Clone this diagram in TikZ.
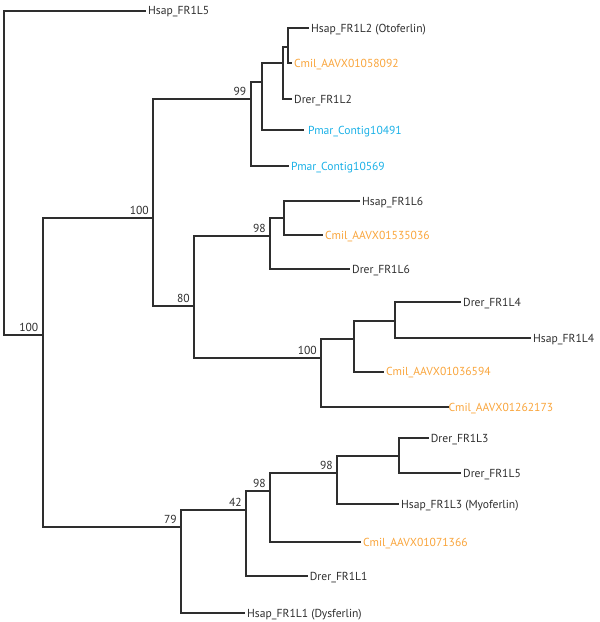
\documentclass[tikz,border=0pt]{standalone}
\usepackage{fontspec}
\setmainfont{PT Sans}
\definecolor{txt}{HTML}{2E2E2E}
\definecolor{orng}{HTML}{F9A53C}
\definecolor{blu}{HTML}{1BB1E7}
\tikzset{
  br/.style={draw=txt, line width=2pt, line cap=rect},
  leaf/.style={anchor=west, inner xsep=3pt, inner ysep=0pt, text height=8pt, text depth=0pt, text=txt, font=\fontsize{11.6}{13}\selectfont},
  cmilleaf/.style={leaf, text=orng},
  pmarleaf/.style={leaf, text=blu},
  bsval/.style={anchor=base east, inner sep=0pt, xshift=-4pt, yshift=3.5pt, text=txt, font=\fontsize{11.6}{13}\selectfont}
}
\begin{document}
\begin{tikzpicture}[x=1pt,y=-1pt]
\useasboundingbox (0,0) rectangle (600,622);
% internal nodes
\coordinate (r) at (4.3,10.5);
\coordinate (n1) at (42.5,335);
\coordinate (n2) at (153,218);
\coordinate (n3) at (250.5,99.3);
\coordinate (n4) at (262,81.7);
\coordinate (n5) at (283,63.3);
\coordinate (n6) at (288,46.7);
\coordinate (n7) at (194,306);
\coordinate (n8) at (270,236);
\coordinate (n9) at (284,218);
\coordinate (n10) at (321,358.3);
\coordinate (n11) at (354,339);
\coordinate (n12) at (395,320.7);
\coordinate (n13) at (181,526.7);
\coordinate (n14) at (246,510);
\coordinate (n15) at (270,491);
\coordinate (n16) at (337,473.3);
\coordinate (n17) at (399.3,456);
% leaves
\node[leaf] (l1) at (145,10.5) {Hsap\_FR1L5};
\node[leaf] (l2) at (308,28.3) {Hsap\_FR1L2 (Otoferlin)};
\node[cmilleaf] (l3) at (291,63.3) {Cmil\_AAVX01058092};
\node[leaf] (l4) at (291,99.3) {Drer\_FR1L2};
\node[pmarleaf, inner xsep=5pt] (l5) at (303,130) {Pmar\_Contig10491};
\node[pmarleaf] (l6) at (288,166) {Pmar\_Contig10569};
\node[leaf] (l7) at (359,201) {Hsap\_FR1L6};
\node[cmilleaf] (l8) at (322,235) {Cmil\_AAVX01535036};
\node[leaf] (l9) at (349,269) {Drer\_FR1L6};
\node[leaf] (l10) at (460,302) {Drer\_FR1L4};
\node[leaf] (l11) at (530,338.3) {Hsap\_FR1L4};
\node[cmilleaf] (l12) at (383,371.7) {Cmil\_AAVX01036594};
\node[cmilleaf, inner xsep=0.5pt] (l13) at (448,407) {Cmil\_AAVX01262173};
\node[leaf] (l14) at (427.7,438.3) {Drer\_FR1L3};
\node[leaf] (l15) at (460,473.3) {Drer\_FR1L5};
\node[leaf] (l16) at (398,504) {Hsap\_FR1L3 (Myoferlin)};
\node[cmilleaf] (l17) at (360,542) {Cmil\_AAVX01071366};
\node[leaf] (l18) at (306.7,576) {Drer\_FR1L1};
\node[leaf] (l19) at (244,613.3) {Hsap\_FR1L1 (Dysferlin)};
% branches
\draw[br] (r) |- (l1.west);
\draw[br] (r) |- (n1);
\draw[br] (n1) |- (n2);
\draw[br] (n1) |- (n13);
\draw[br] (n2) |- (n3);
\draw[br] (n2) |- (n7);
\draw[br] (n3) |- (n4);
\draw[br] (n3) |- (l6.west);
\draw[br] (n4) |- (n5);
\draw[br] (n4) |- (l5.west);
\draw[br] (n5) |- (n6);
\draw[br] (n5) |- (l4.west);
\draw[br] (n6) |- (l2.west);
\draw[br] (n6) |- (l3.west);
\draw[br] (n7) |- (n8);
\draw[br] (n7) |- (n10);
\draw[br] (n8) |- (n9);
\draw[br] (n8) |- (l9.west);
\draw[br] (n9) |- (l7.west);
\draw[br] (n9) |- (l8.west);
\draw[br] (n10) |- (n11);
\draw[br] (n10) |- (l13.west);
\draw[br] (n11) |- (n12);
\draw[br] (n11) |- (l12.west);
\draw[br] (n12) |- (l10.west);
\draw[br] (n12) |- (l11.west);
\draw[br] (n13) |- (n14);
\draw[br] (n13) |- (l19.west);
\draw[br] (n14) |- (n15);
\draw[br] (n14) |- (l18.west);
\draw[br] (n15) |- (n16);
\draw[br] (n15) |- (l17.west);
\draw[br] (n16) |- (n17);
\draw[br] (n16) |- (l16.west);
\draw[br] (n17) |- (l14.west);
\draw[br] (n17) |- (l15.west);
% bootstrap values
\node[bsval] (b1) at (n1) {100};
\node[bsval] (b2) at (n2) {100};
\node[bsval] (b3) at (n3) {99};
\node[bsval] (b7) at (n7) {80};
\node[bsval] (b8) at (n8) {98};
\node[bsval] (b10) at (n10) {100};
\node[bsval] (b13) at (n13) {79};
\node[bsval] (b14) at (n14) {42};
\node[bsval] (b15) at (n15) {98};
\node[bsval] (b16) at (n16) {98};
\end{tikzpicture}
\end{document}
